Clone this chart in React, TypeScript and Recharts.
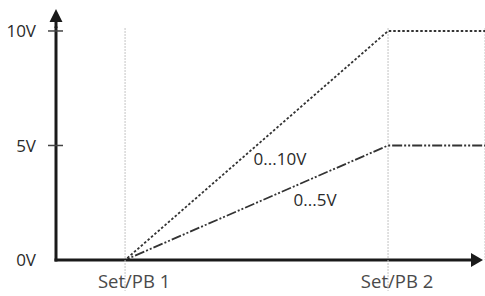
import { LineChart, Line, XAxis, YAxis, CartesianGrid, ReferenceDot } from "recharts";

// x positions in arbitrary units: axis origin, Set/PB 1, Set/PB 2, right edge
const xPositions = [0, 16.1, 77.4, 100];
const out10V = [0, 0, 10, 10];
const out5V = [0, 0, 5, 5];

const xTicks = [16.1, 77.4];
const xTickLabels = ["Set/PB 1", "Set/PB 2"];
const yTicks = [0, 5, 10];
const yTickLabels = ["0V", "5V", "10V"];

const seriesLabels = [
  { text: "0...10V", x: 52.2, y: 4.39 },
  { text: "0...5V", x: 60.4, y: 2.62 },
];

const data = xPositions.map((x, i) => ({ x, v10: out10V[i], v5: out5V[i] }));

const FONT = "'Open Sans', sans-serif";
const INK = "#1a1a1a";
const GRID = "#c4c4c4";

function XTick(props: any) {
  const { x, y, payload } = props;
  const label = xTickLabels[xTicks.indexOf(payload.value)];
  return (
    <g>
      <line x1={x} y1={y} x2={x} y2={y + 31} stroke={GRID} strokeDasharray="2 1" />
      <text x={x + 9} y={y + 28} textAnchor="middle" fill="#4a4a4a" fontSize={18.5} fontFamily={FONT}>
        {label}
      </text>
    </g>
  );
}

function YTick(props: any) {
  const { x, y, payload } = props;
  const label = yTickLabels[yTicks.indexOf(payload.value)];
  return (
    <g>
      {payload.value !== 0 && <line x1={x - 8} y1={y} x2={x + 7} y2={y} stroke="#444" strokeWidth={1.5} />}
      <text x={x - 20} y={y} dy="0.36em" textAnchor="end" fill="#2a2a2a" fontSize={17} fontFamily={FONT}>
        {label}
      </text>
    </g>
  );
}

export default function App() {
  return (
    <div style={{ position: "absolute", left: 0, top: 0, width: 485, height: 296, background: "#fff" }}>
      <svg width={0} height={0} style={{ position: "absolute" }}>
        <defs>
          <marker
            id="arrowY"
            markerUnits="userSpaceOnUse"
            markerWidth={40}
            markerHeight={40}
            viewBox="-20 -20 40 40"
            refX={0}
            refY={0}
            orient="auto-start-reverse"
          >
            <path d="M0 -1.5 L6 -1.5 L6 -6.5 L19 0 L6 6.5 L6 1.5 L0 1.5 Z" fill={INK} />
          </marker>
          <marker
            id="arrowX"
            markerUnits="userSpaceOnUse"
            markerWidth={40}
            markerHeight={40}
            viewBox="-20 -20 40 40"
            refX={0}
            refY={0}
            orient="auto"
          >
            <path d="M-14 -7 L-2 0 L-14 7 Z" fill={INK} />
          </marker>
        </defs>
      </svg>
      <LineChart width={485} height={296} data={data} margin={{ top: 28, right: 0, bottom: 0, left: 0 }}>
        <CartesianGrid horizontal={false} stroke={GRID} strokeDasharray="2 1" />
        <XAxis
          dataKey="x"
          type="number"
          domain={[0, 100]}
          ticks={xTicks}
          interval={0}
          height={36}
          tickSize={0}
          tickMargin={0}
          tickLine={false}
          tick={<XTick />}
          axisLine={{
            stroke: INK,
            strokeWidth: 3,
            strokeLinecap: "square",
            strokeDasharray: "415 40",
            markerEnd: "url(#arrowX)",
          }}
        />
        <YAxis
          type="number"
          domain={[0, 10.13]}
          allowDataOverflow
          ticks={yTicks}
          interval={0}
          width={56}
          tickSize={0}
          tickMargin={0}
          tickLine={false}
          tick={<YTick />}
          axisLine={{ stroke: INK, strokeWidth: 3, strokeLinecap: "square", markerStart: "url(#arrowY)" }}
        />
        <Line
          dataKey="v10"
          type="linear"
          stroke="#333"
          strokeWidth={1.8}
          strokeDasharray="2.5 2"
          dot={false}
          activeDot={false}
          isAnimationActive={false}
        />
        <Line
          dataKey="v5"
          type="linear"
          stroke="#333"
          strokeWidth={1.8}
          strokeDasharray="10 2 2 2 2 2"
          dot={false}
          activeDot={false}
          isAnimationActive={false}
        />
        {seriesLabels.map((l) => (
          <ReferenceDot
            key={l.text}
            x={l.x}
            y={l.y}
            r={0}
            fill="none"
            stroke="none"
            label={{ value: l.text, position: "center", fill: "#2a2a2a", fontSize: 17, fontFamily: FONT }}
          />
        ))}
      </LineChart>
    </div>
  );
}
